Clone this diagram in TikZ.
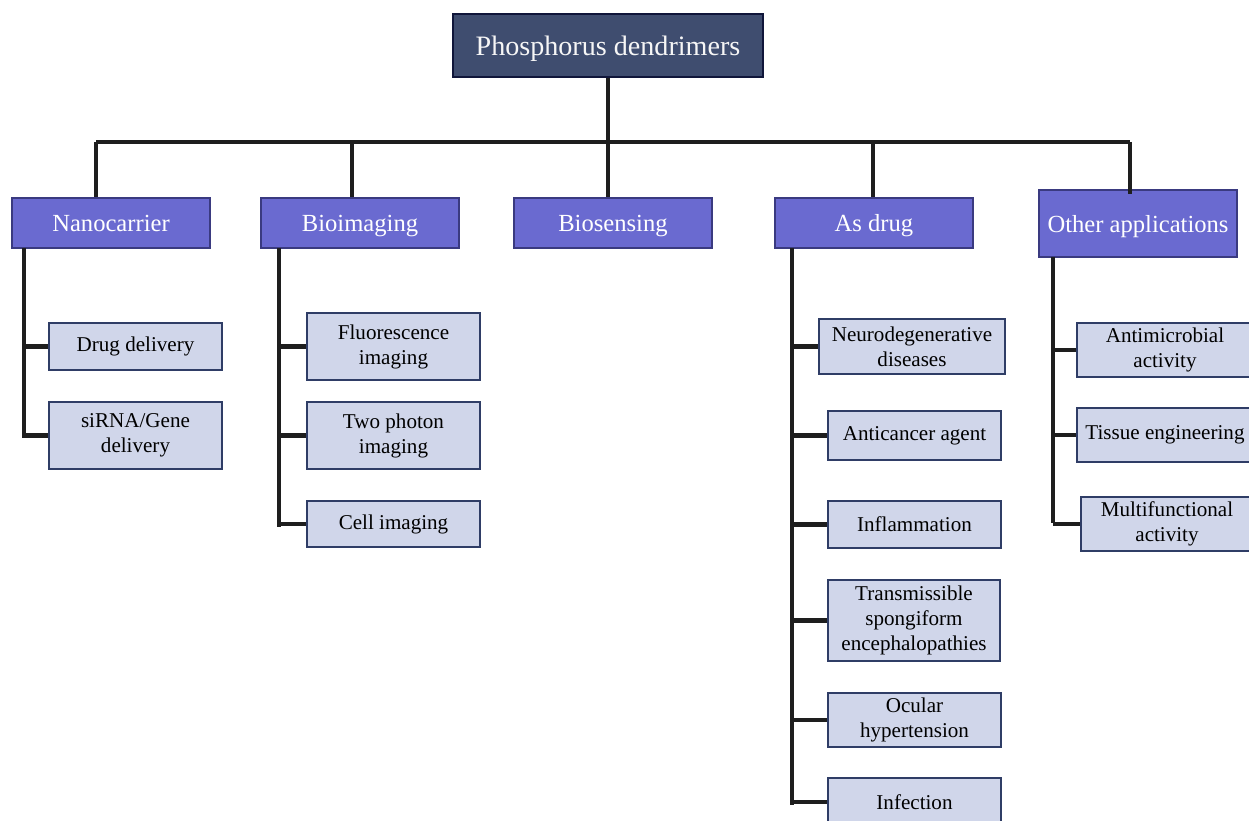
\documentclass[tikz,border=0pt]{standalone}
\usepackage{fontspec}
\setmainfont{Liberation Serif}
\definecolor{topfill}{HTML}{3F4D6F}
\definecolor{topline}{HTML}{10163A}
\definecolor{catfill}{HTML}{6A6AD0}
\definecolor{catline}{HTML}{3A3A80}
\definecolor{leaffill}{HTML}{D0D6EA}
\definecolor{leafline}{HTML}{2F3D66}
\definecolor{wire}{HTML}{1E1E1E}
\begin{document}
\begin{tikzpicture}[x=0.02cm, y=-0.02cm,
  rootbox/.style={draw=topline, fill=topfill, line width=1.2pt, text=white!93!gray,
    minimum width=6.2cm, minimum height=1.26cm, inner sep=2pt,
    text height=13pt, text depth=1.5pt,
    font=\fontsize{16}{19}\selectfont},
  catbox/.style={draw=catline, fill=catfill, line width=1.1pt, text=white,
    minimum width=3.96cm, minimum height=1cm, inner sep=2pt,
    text height=11.5pt, text depth=1.5pt,
    font=\fontsize{14}{17}\selectfont},
  leafbox/.style={draw=leafline, fill=leaffill, line width=1.1pt, text=black,
    minimum width=3.46cm, align=center, inner sep=2pt,
    font=\fontsize{12}{14.2}\selectfont},
  wire/.style={draw=wire, line width=2.8pt}]
\useasboundingbox (0,0) rectangle (1249,821);
\clip (0,0) rectangle (1249,821);

% Root
\node[rootbox] (root) at (608,45.5) {Phosphorus dendrimers};

% Categories
\node[catbox] (nano) at (111,223) {Nanocarrier};
\node[catbox] (bioimg) at (360,223) {Bioimaging};
\node[catbox] (biosens) at (613,223) {Biosensing};
\node[catbox] (drug) at (874,223) {As drug};
\node[catbox, minimum height=1.34cm] (other) at (1138,223.5) {Other applications};

% Nanocarrier leaves
\node[leafbox, minimum height=0.94cm] (deliv) at (135.5,346.5) {Drug delivery};
\node[leafbox, minimum height=1.34cm] (sirna) at (135.5,435.5) {siRNA/Gene\\delivery};

% Bioimaging leaves
\node[leafbox, minimum height=1.34cm] (fluo) at (393.5,346.5) {Fluorescence\\imaging};
\node[leafbox, minimum height=1.34cm] (twoph) at (393.5,435.5) {Two photon\\imaging};
\node[leafbox, minimum height=0.92cm] (cellimg) at (393.5,524) {Cell imaging};

% Drug leaves
\node[leafbox, minimum width=3.72cm, minimum height=1.1cm] (neuro) at (912,346.5) {Neurodegenerative\\diseases};
\node[leafbox, minimum height=0.98cm] (cancer) at (914.5,435.5) {Anticancer agent};
\node[leafbox, minimum height=0.94cm] (inflam) at (914.5,524.5) {Inflammation};
\node[leafbox, minimum width=3.44cm, minimum height=1.62cm] (tse) at (914,620.5) {Transmissible\\spongiform\\encephalopathies};
\node[leafbox, minimum height=1.08cm] (ocular) at (914.5,720) {Ocular\\hypertension};
\node[leafbox, minimum height=0.96cm] (infect) at (914.5,802) {Infection};

% Other leaves
\node[leafbox, minimum width=3.52cm, minimum height=1.08cm] (microb) at (1165,350) {Antimicrobial\\activity};
\node[leafbox, minimum width=3.52cm, minimum height=1.08cm] (tissue) at (1165,435) {Tissue engineering};
\node[leafbox, minimum width=3.44cm, minimum height=1.08cm] (multi) at (1167,524) {Multifunctional\\activity};

% Main bus
\coordinate (s1) at (96,142);
\coordinate (s2) at (352,142);
\coordinate (s3) at (608,142);
\coordinate (s4) at (873,142);
\coordinate (s5) at (1130,142);
\draw[wire] (s1) -- (s5);
\draw[wire] (root.south) -- (s3);
\draw[wire] (s1) -- (s1 |- nano.north);
\draw[wire] (s2) -- (s2 |- bioimg.north);
\draw[wire] (s3) -- (s3 |- biosens.north);
\draw[wire] (s4) -- (s4 |- drug.north);
\draw[wire] (s5) -- ([yshift=-3pt]s5 |- other.north);

% Branch lines
\coordinate (b1) at (24,248);
\coordinate (b2) at (279,248);
\coordinate (b4) at (792,248);
\coordinate (b5) at (1053,257);
\draw[wire] (b1) -- (24,438);
\draw[wire] (b2) -- (279,527);
\draw[wire] (b4) -- (792,805);
\draw[wire] (b5) -- (1053,523);

% Ticks
\draw[wire] (b1 |- deliv.west) -- (deliv.west);
\draw[wire] (b1 |- sirna.west) -- (sirna.west);
\draw[wire] (b2 |- fluo.west) -- (fluo.west);
\draw[wire] (b2 |- twoph.west) -- (twoph.west);
\draw[wire] (b2 |- cellimg.west) -- (cellimg.west);
\draw[wire] (b4 |- neuro.west) -- (neuro.west);
\draw[wire] (b4 |- cancer.west) -- (cancer.west);
\draw[wire] (b4 |- inflam.west) -- (inflam.west);
\draw[wire] (b4 |- tse.west) -- (tse.west);
\draw[wire] (b4 |- ocular.west) -- (ocular.west);
\draw[wire] (b4 |- infect.west) -- (infect.west);
\draw[wire] (b5 |- microb.west) -- (microb.west);
\draw[wire] (b5 |- tissue.west) -- (tissue.west);
\draw[wire] (b5 |- multi.west) -- (multi.west);
\end{tikzpicture}
\end{document}
